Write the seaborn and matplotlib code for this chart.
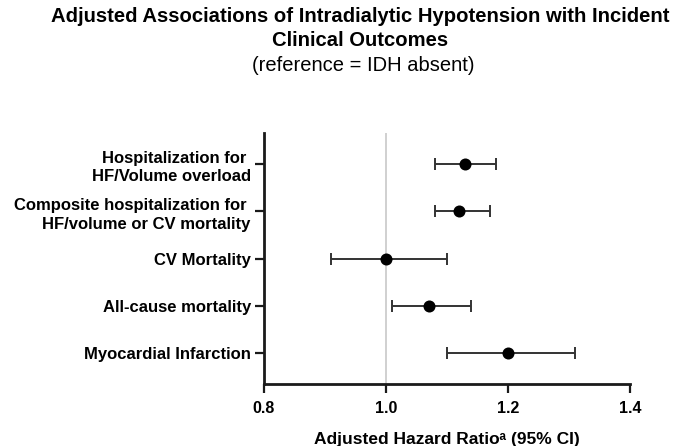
import matplotlib
matplotlib.use("Agg")
import matplotlib.pyplot as plt
import seaborn as sns
import pandas as pd

# Outcomes and adjusted hazard ratios with 95% confidence limits
outcomes = [
    "Hospitalization for \nHF/Volume overload",
    "Composite hospitalization for \nHF/volume or CV mortality",
    "CV Mortality",
    "All-cause mortality",
    "Myocardial Infarction",
]
hazard_ratio = [1.13, 1.12, 1.00, 1.07, 1.20]
ci_lower = [1.08, 1.08, 0.91, 1.01, 1.10]
ci_upper = [1.18, 1.17, 1.10, 1.14, 1.31]
x_ticks = [0.8, 1.0, 1.2, 1.4]

df = pd.DataFrame({"outcome": outcomes, "hr": hazard_ratio,
                   "lo": ci_lower, "hi": ci_upper})
df["pos"] = range(len(df))

sns.set_theme(style="ticks")
plt.rcParams["font.family"] = ["Liberation Sans", "DejaVu Sans"]
plt.rcParams["text.color"] = "black"
plt.rcParams["axes.labelcolor"] = "black"
plt.rcParams["xtick.labelcolor"] = "black"
plt.rcParams["ytick.labelcolor"] = "black"

fig = plt.figure(figsize=(6.9, 4.46), dpi=100)
ax = fig.add_axes([0.3826, 0.139, 0.5304, 0.5628])

# reference line at HR = 1
ax.axvline(1.0, color="#c8c8c8", lw=1.2, zorder=0)

# confidence intervals
ax.errorbar(df["hr"], df["pos"],
            xerr=[df["hr"] - df["lo"], df["hi"] - df["hr"]],
            fmt="none", ecolor="#333333", elinewidth=1.4,
            capsize=4.5, capthick=1.4, zorder=2)

# point estimates
sns.scatterplot(data=df, x="hr", y="pos", ax=ax, color="black",
                s=75, edgecolor="black", linewidth=0, zorder=3, legend=False)

ax.set_xlim(0.8, 1.4)
ax.set_ylim(len(df) - 0.34, -0.66)
ax.set_xticks(x_ticks)
ax.set_xticklabels([f"{v:.1f}" for v in x_ticks], fontweight="bold", fontsize=11.5)
ax.set_yticks(df["pos"])
ax.set_yticklabels(df["outcome"], fontweight="bold", fontsize=12, linespacing=1.32)
ax.set_ylabel("")
ax.set_xlabel("Adjusted Hazard Ratio\u1d43 (95% CI)", fontweight="bold",
              fontsize=12.5, labelpad=11)

for side in ("top", "right"):
    ax.spines[side].set_visible(False)
for side in ("left", "bottom"):
    ax.spines[side].set_linewidth(2.0)
    ax.spines[side].set_color("#1a1a1a")
ax.tick_params(axis="both", length=6.5, width=1.6, color="#1a1a1a")
ax.tick_params(axis="x", pad=6)
ax.tick_params(axis="y", pad=3)

title_x = 0.522
fig.text(title_x, 1 - 22.5 / 446, "Adjusted Associations of Intradialytic Hypotension with Incident",
         ha="center", va="baseline", fontsize=14.6, fontweight="bold")
fig.text(title_x, 1 - 46 / 446, "Clinical Outcomes",
         ha="center", va="baseline", fontsize=14.6, fontweight="bold")
fig.text(title_x + 0.004, 1 - 71 / 446, "(reference = IDH absent)",
         ha="center", va="baseline", fontsize=14.5)

fig.savefig("out.png", dpi=100)
